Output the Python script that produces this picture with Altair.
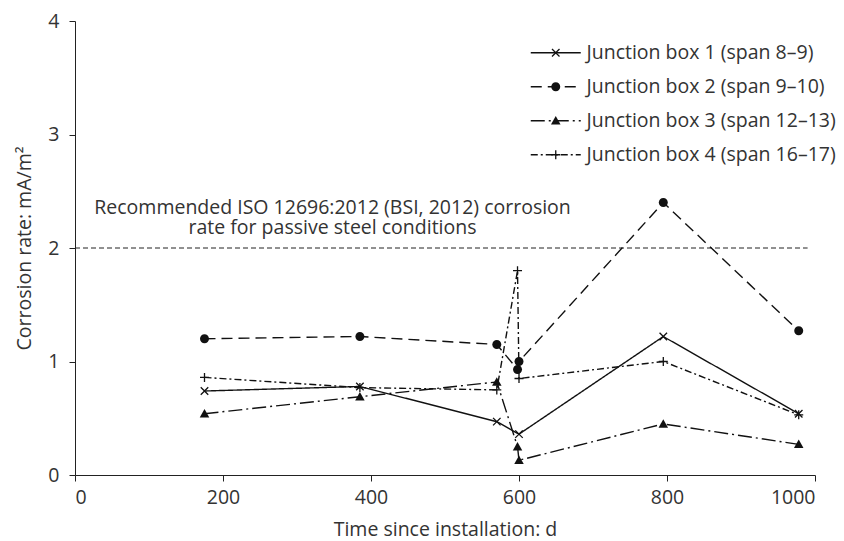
import altair as alt
import pandas as pd

series_names = [
    "Junction box 1 (span 8–9)",
    "Junction box 2 (span 9–10)",
    "Junction box 3 (span 12–13)",
    "Junction box 4 (span 16–17)",
]

days_jb1 = [175, 385, 570, 600, 795, 978]
rate_jb1 = [0.74, 0.78, 0.47, 0.36, 1.22, 0.54]

days_jb2 = [175, 385, 570, 598, 600, 795, 978]
rate_jb2 = [1.20, 1.22, 1.15, 0.93, 1.00, 2.40, 1.27]

days_jb3 = [175, 385, 570, 598, 600, 795, 978]
rate_jb3 = [0.54, 0.69, 0.82, 0.25, 0.13, 0.45, 0.27]

days_jb4 = [175, 385, 570, 598, 600, 795, 978]
rate_jb4 = [0.86, 0.77, 0.75, 1.80, 0.85, 1.00, 0.53]

x_ticks = [0, 200, 400, 600, 800, 1000]
y_ticks = [0, 1, 2, 3, 4]

note_lines = [
    "Recommended ISO 12696:2012 (BSI, 2012) corrosion",
    "rate for passive steel conditions",
]

rows = []
for name, days, rates in zip(
    series_names,
    [days_jb1, days_jb2, days_jb3, days_jb4],
    [rate_jb1, rate_jb2, rate_jb3, rate_jb4],
):
    for i, (d, r) in enumerate(zip(days, rates)):
        rows.append({"series": name, "mk": name, "day": d, "rate": r, "order": i})
df = pd.DataFrame(rows)

dash_range = [[1, 0], [11, 6], [14, 4, 2, 4], [7, 3, 2, 3]]
X_SHAPE = ("M-0.658,-0.842L0,-0.184L0.658,-0.842L0.842,-0.658L0.184,0"
           "L0.842,0.658L0.658,0.842L0,0.184L-0.658,0.842L-0.842,0.658"
           "L-0.184,0L-0.842,-0.658Z")
CIRCLE_SHAPE = "M0.9,0A0.9,0.9,0,1,1,-0.9,0A0.9,0.9,0,1,1,0.9,0Z"
TRI_SHAPE = "M0,-0.95L0.95,0.75L-0.95,0.75Z"
PLUS_SHAPE = ("M-0.9,-0.13L-0.13,-0.13L-0.13,-0.9L0.13,-0.9L0.13,-0.13"
              "L0.9,-0.13L0.9,0.13L0.13,0.13L0.13,0.9L-0.13,0.9L-0.13,0.13"
              "L-0.9,0.13Z")
shape_range = [X_SHAPE, CIRCLE_SHAPE, TRI_SHAPE, PLUS_SHAPE]

FONT = "Open Sans"
TXT = "#333333"
INK = "#111111"

x_enc = alt.X(
    "day:Q",
    scale=alt.Scale(domain=[0, 1000]),
    axis=alt.Axis(values=x_ticks, format="d", title="Time since installation: d",
                  labelPadding=7, titlePadding=14),
)
y_enc = alt.Y(
    "rate:Q",
    scale=alt.Scale(domain=[0, 4]),
    axis=alt.Axis(values=y_ticks, format="d", title="Corrosion rate: mA/m²",
                  labelPadding=10, titlePadding=13),
)

lines = alt.Chart(df).mark_line(color=INK, strokeWidth=1.4).encode(
    x=x_enc,
    y=y_enc,
    order="order:Q",
    strokeDash=alt.StrokeDash(
        "series:N",
        scale=alt.Scale(domain=series_names, range=dash_range),
        legend=alt.Legend(
            title=None, orient="none", legendX=471, legendY=22,
            symbolType="M-5,0L5,0", symbolSize=100,
            symbolStrokeColor=INK, symbolStrokeWidth=1.4,
            labelOffset=21, labelFontSize=19.5, labelFont=FONT,
            labelColor=TXT, labelLimit=500, rowPadding=13, padding=0,
        ),
    ),
)

points = alt.Chart(df).mark_point(
    filled=True, fill=INK, strokeWidth=0, size=100, opacity=1
).encode(
    x="day:Q",
    y="rate:Q",
    shape=alt.Shape(
        "mk:N",
        scale=alt.Scale(range=shape_range),
        legend=alt.Legend(
            title=None, orient="none", legendX=471, legendY=22,
            symbolSize=100, symbolFillColor=INK, symbolStrokeWidth=0,
            labelOffset=21, labelFontSize=19.5, labelFont=FONT,
            labelOpacity=0, labelLimit=500, rowPadding=13, padding=0,
        ),
    ),
)

ref_rule = alt.Chart().mark_rule(
    color="#222222", strokeWidth=1, strokeDash=[5, 3]
).encode(y=alt.datum(2), x=alt.datum(0), x2=alt.datum(990))

note = alt.Chart().mark_text(
    text=note_lines, font=FONT, fontSize=19.5, color=TXT,
    align="center", baseline="alphabetic", lineHeight=20,
).encode(x=alt.datum(348), y=alt.datum(2.30))

chart = alt.layer(ref_rule, lines, points, note).properties(
    width=740,
    height=454,
    padding={"left": 75, "top": 21, "right": 29, "bottom": 66},
    autosize=alt.AutoSizeParams(type="none"),
    background="white",
).configure_view(stroke=None).configure_axis(
    grid=False,
    domainColor="#222222",
    tickColor="#222222",
    tickSize=6,
    labelColor=TXT,
    titleColor=TXT,
    labelFont=FONT,
    titleFont=FONT,
    labelFontSize=19.5,
    titleFontSize=19.5,
    titleFontWeight="normal",
)

chart.save("out.html", embed_options={"renderer": "svg", "actions": False})
